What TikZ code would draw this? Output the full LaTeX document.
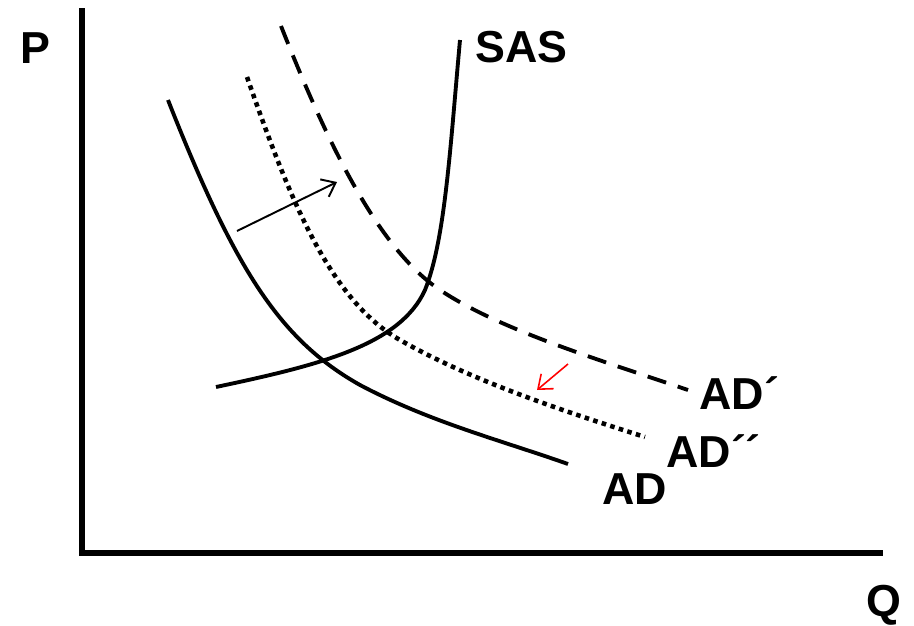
\documentclass[tikz,border=0pt]{standalone}
\usepackage{fontspec}
\setmainfont{Liberation Sans}
\usetikzlibrary{arrows.meta}

\begin{document}
\begin{tikzpicture}[
    x=0.02cm,
    y=-0.02cm,
    font=\fontsize{25.5}{30}\selectfont\bfseries,
    axisline/.style={line width=3pt},
    curveline/.style={line width=2.2pt},
    dashcurve/.style={curveline, dash pattern=on 11pt off 7pt},
    dotcurve/.style={line width=2.6pt, dash pattern=on 2.6pt off 2.5pt},
    label/.style={anchor=base west, inner sep=0pt},
    shiftarrow/.style={line width=1.1pt, -{Straight Barb[length=7pt,width=11pt]}}
]
\useasboundingbox (0,0) rectangle (914,626);

% Axes
\coordinate (top) at (82,8);
\coordinate (origin) at (82,553);
\coordinate (right) at (883,553);
\draw[axisline] (top) -- (origin) -- (right);

\node[label] (p) at (20,63) {P};
\node[label] (q) at (866,616) {Q};

% SAS curve
\draw[curveline] (216,387) .. controls (320,365) and (400,345) .. (425,290)
    .. controls (445,240) and (450,150) .. (460,40);
\node[label] (sas) at (475,62) {SAS};

% AD curve
\draw[curveline] (168,100) .. controls (235,270) and (280,340) .. (360,385)
    .. controls (430,422) and (500,440) .. (568,464);
\node[label] (ad) at (602,504) {AD};

% AD' (dashed)
\draw[dashcurve] (281,26) .. controls (330,150) and (380,250) .. (440,290)
    .. controls (500,330) and (600,360) .. (688,390);
\node[label] (ad1) at (699,409) {AD´};

% AD'' (dotted)
\draw[dotcurve] (247,77) .. controls (290,200) and (330,300) .. (400,340)
    .. controls (470,380) and (560,410) .. (645,437);
\node[label] (ad2) at (666,467) {AD´´};

% Shift arrows
\coordinate (shiftA) at (237,231);
\coordinate (shiftB) at (337,182);
\draw[shiftarrow] (shiftA) -- (shiftB);

\coordinate (backA) at (568,364);
\coordinate (backB) at (537,390);
\draw[shiftarrow, red, line width=0.9pt] (backA) -- (backB);

\end{tikzpicture}
\end{document}
